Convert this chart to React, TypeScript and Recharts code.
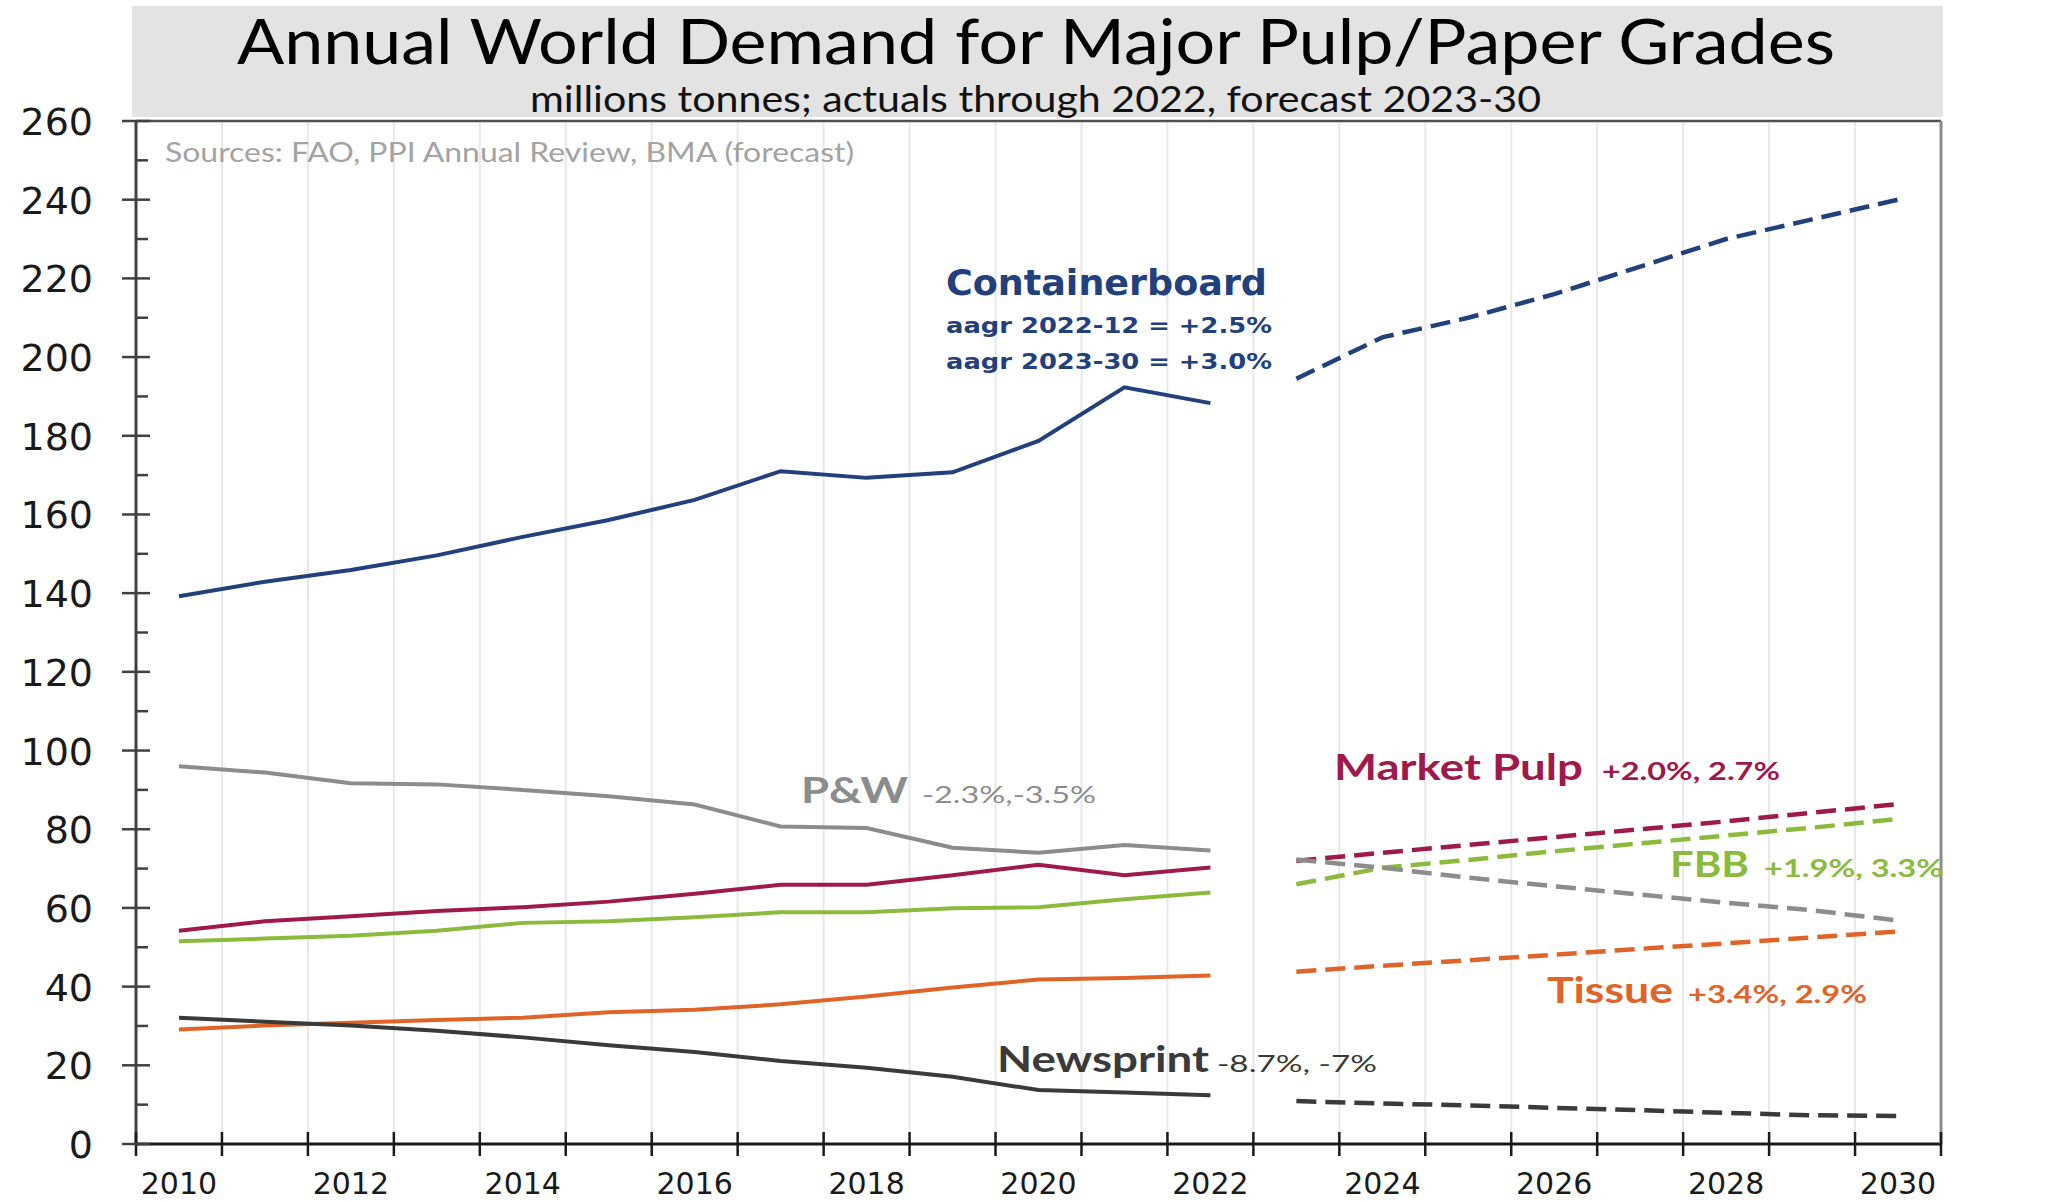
import React from "react";
import { LineChart, Line, XAxis, YAxis, CartesianGrid, ReferenceLine } from "recharts";

const years = [2010, 2011, 2012, 2013, 2014, 2015, 2016, 2017, 2018, 2019, 2020, 2021, 2022, 2023, 2024, 2025, 2026, 2027, 2028, 2029, 2030];
const actualCount = 13; // 2010-2022 actuals, 2023-30 forecast

const containerboardActual = [139.2, 142.9, 145.9, 149.6, 154.3, 158.6, 163.7, 171.0, 169.3, 170.7, 178.7, 192.3, 188.3];
const containerboardForecast = [194.5, 205.0, 210.0, 216.0, 223.0, 230.0, 235.0, 240.0];
const pwActual = [96.0, 94.4, 91.7, 91.4, 90.0, 88.4, 86.3, 80.7, 80.3, 75.3, 74.0, 76.0, 74.6];
const pwForecast = [72.3, 70.2, 67.7, 65.5, 63.4, 61.3, 59.4, 56.8];
const marketPulpActual = [54.2, 56.6, 57.9, 59.2, 60.2, 61.6, 63.6, 65.9, 65.9, 68.3, 71.0, 68.3, 70.3];
const marketPulpForecast = [72.0, 74.0, 76.0, 78.0, 80.0, 82.0, 84.2, 86.4];
const fbbActual = [51.5, 52.2, 52.9, 54.2, 56.2, 56.6, 57.6, 58.9, 58.9, 59.9, 60.2, 62.2, 63.9];
const fbbForecast = [66.0, 70.2, 72.2, 74.4, 76.4, 78.4, 80.4, 82.6];
const tissueActual = [29.1, 30.1, 30.8, 31.5, 32.1, 33.5, 34.1, 35.5, 37.5, 39.8, 41.8, 42.2, 42.8];
const tissueForecast = [43.8, 45.3, 46.7, 48.1, 49.6, 51.0, 52.5, 54.0];
const newsprintActual = [32.1, 31.1, 30.1, 28.8, 27.1, 25.1, 23.4, 21.1, 19.4, 17.1, 13.7, 13.1, 12.4];
const newsprintForecast = [10.9, 10.3, 9.8, 9.2, 8.6, 7.9, 7.3, 7.1];

const yTicks = [0, 10, 20, 30, 40, 50, 60, 70, 80, 90, 100, 110, 120, 130, 140, 150, 160, 170, 180, 190, 200, 210, 220, 230, 240, 250, 260];
const yGridValues = [20, 40, 60, 80, 100, 120, 140, 160, 180, 200, 220, 240];
const xLabelYears = [2010, 2012, 2014, 2016, 2018, 2020, 2022, 2024, 2026, 2028, 2030];

const xBoundaries = [2009.5, ...years.map((y) => y + 0.5)];
const xTickValues = [...xBoundaries, ...xLabelYears].sort((a, b) => a - b);
const xGridValues = xBoundaries.slice(1, xBoundaries.length - 1);

const pick = (arr: number[], i: number, forecast: boolean) =>
  forecast ? (i >= actualCount ? arr[i - actualCount] : null) : i < actualCount ? arr[i] : null;

const data = years.map((year, i) => ({
  year,
  cbA: pick(containerboardActual, i, false),
  cbF: pick(containerboardForecast, i, true),
  pwA: pick(pwActual, i, false),
  pwF: pick(pwForecast, i, true),
  mpA: pick(marketPulpActual, i, false),
  mpF: pick(marketPulpForecast, i, true),
  fbbA: pick(fbbActual, i, false),
  fbbF: pick(fbbForecast, i, true),
  tisA: pick(tissueActual, i, false),
  tisF: pick(tissueForecast, i, true),
  nwA: pick(newsprintActual, i, false),
  nwF: pick(newsprintForecast, i, true),
}));

const C_CB = "#22407c";
const C_PW = "#8c8c8c";
const C_MP = "#a0194b";
const C_FBB = "#8cba3c";
const C_TIS = "#e06428";
const C_NW = "#3a3a3a";

const AXIS_FONT = "DejaVu Sans";

function LeftTick(props: any) {
  const { x, y, payload } = props;
  const v = payload.value;
  if (v % 20 === 0) {
    return (
      <g>
        <line x1={x - 14} x2={x + 14} y1={y} y2={y} stroke="#404040" strokeWidth={2.5} />
        <text x={x - 43} y={y} dy={14} textAnchor="end" fontFamily={AXIS_FONT} fontSize={38} fill="#1a1a1a">
          {v}
        </text>
      </g>
    );
  }
  return <line x1={x} x2={x + 12} y1={y} y2={y} stroke="#404040" strokeWidth={2.5} />;
}

function RightTick(props: any) {
  const { x, y, payload } = props;
  const v = payload.value;
  if (v % 20 === 0) {
    return (
      <g>
        <line x1={x - 14} x2={x + 17} y1={y} y2={y} stroke="#8c8c8c" strokeWidth={2.5} />
        <text x={x + 42} y={y} dy={14} textAnchor="start" fontFamily={AXIS_FONT} fontSize={38} fill="#1a1a1a">
          {v}
        </text>
      </g>
    );
  }
  return <line x1={x - 10} x2={x} y1={y} y2={y} stroke="#8c8c8c" strokeWidth={2.5} />;
}

function BottomTick(props: any) {
  const { x, y, payload } = props;
  const v = payload.value;
  if (Number.isInteger(v)) {
    return (
      <text x={x} y={y + 50} textAnchor="middle" fontFamily={AXIS_FONT} fontSize={30} fill="#1a1a1a">
        {v}
      </text>
    );
  }
  return <line x1={x} x2={x} y1={y - 12} y2={y + 12} stroke="#1a1a1a" strokeWidth={2.5} />;
}

const LABEL_FONT = "Lato";

export default function App() {
  return (
    <div style={{ position: "absolute", left: 0, top: 0, width: 2069, height: 1202, background: "#ffffff" }}>
      <svg width={2069} height={1202} style={{ position: "absolute", left: 0, top: 0 }}>
        <rect x={132} y={6} width={1811} height={111} fill="#e3e3e3" />
      </svg>
      <div style={{ position: "absolute", left: 0, top: 0 }}>
        <LineChart width={2069} height={1202} data={data} margin={{ top: 121, right: 28, bottom: 0, left: 36 }}>
          <CartesianGrid
            stroke="#e8e8e8"
            strokeWidth={2}
            horizontalValues={yGridValues}
            verticalValues={xGridValues}
          />
          <XAxis
            dataKey="year"
            type="number"
            domain={[2009.5, 2030.5]}
            ticks={xTickValues}
            interval={0}
            height={58}
            tickSize={0}
            tickMargin={0}
            tickLine={false}
            axisLine={{ stroke: "#1a1a1a", strokeWidth: 3 }}
            tick={(p: any) => <BottomTick {...p} />}
          />
          <YAxis
            yAxisId="left"
            orientation="left"
            type="number"
            domain={[0, 260]}
            ticks={yTicks}
            interval={0}
            width={100}
            tickSize={0}
            tickMargin={0}
            tickLine={false}
            axisLine={{ stroke: "#404040", strokeWidth: 3 }}
            tick={(p: any) => <LeftTick {...p} />}
          />
          <YAxis
            yAxisId="right"
            orientation="right"
            type="number"
            domain={[0, 260]}
            ticks={yTicks}
            interval={0}
            width={100}
            tickSize={0}
            tickMargin={0}
            tickLine={false}
            axisLine={{ stroke: "#8c8c8c", strokeWidth: 3 }}
            tick={(p: any) => <RightTick {...p} />}
          />
          <ReferenceLine yAxisId="left" y={260} stroke="#505050" strokeWidth={2.5} />

          <Line yAxisId="left" dataKey="cbA" stroke={C_CB} strokeWidth={4} dot={false} isAnimationActive={false} />
          <Line yAxisId="left" dataKey="cbF" stroke={C_CB} strokeWidth={4.5} strokeDasharray="20 9" dot={false} isAnimationActive={false} />
          <Line yAxisId="left" dataKey="pwA" stroke={C_PW} strokeWidth={4} dot={false} isAnimationActive={false} />
          <Line yAxisId="left" dataKey="tisA" stroke={C_TIS} strokeWidth={4} dot={false} isAnimationActive={false} />
          <Line yAxisId="left" dataKey="tisF" stroke={C_TIS} strokeWidth={4.5} strokeDasharray="20 9" dot={false} isAnimationActive={false} />
          <Line yAxisId="left" dataKey="nwA" stroke={C_NW} strokeWidth={4} dot={false} isAnimationActive={false} />
          <Line yAxisId="left" dataKey="nwF" stroke={C_NW} strokeWidth={4.5} strokeDasharray="20 9" dot={false} isAnimationActive={false} />
          <Line yAxisId="left" dataKey="fbbA" stroke={C_FBB} strokeWidth={4} dot={false} isAnimationActive={false} />
          <Line yAxisId="left" dataKey="fbbF" stroke={C_FBB} strokeWidth={4.5} strokeDasharray="20 9" dot={false} isAnimationActive={false} />
          <Line yAxisId="left" dataKey="mpA" stroke={C_MP} strokeWidth={4} dot={false} isAnimationActive={false} />
          <Line yAxisId="left" dataKey="mpF" stroke={C_MP} strokeWidth={4.5} strokeDasharray="20 9" dot={false} isAnimationActive={false} />
          <Line yAxisId="left" dataKey="pwF" stroke={C_PW} strokeWidth={4.5} strokeDasharray="20 9" dot={false} isAnimationActive={false} />
        </LineChart>
      </div>
      <svg width={2069} height={1202} style={{ position: "absolute", left: 0, top: 0, pointerEvents: "none" }}>
        <text x={237} y={64} fontFamily={LABEL_FONT} fontSize={62} fill="#000" textLength={1598} lengthAdjust="spacingAndGlyphs">
          Annual World Demand for Major Pulp/Paper Grades
        </text>
        <text x={530} y={112} fontFamily={LABEL_FONT} fontSize={36} fill="#111" textLength={1011} lengthAdjust="spacingAndGlyphs">
          millions tonnes; actuals through 2022, forecast 2023-30
        </text>
        <text x={165} y={162} fontFamily={LABEL_FONT} fontSize={27} fill="#a3a3a3" textLength={689} lengthAdjust="spacingAndGlyphs">
          Sources: FAO, PPI Annual Review, BMA (forecast)
        </text>

        <text x={946} y={295} fontFamily="DejaVu Sans" fontWeight="bold" fontSize={36} fill={C_CB} textLength={321} lengthAdjust="spacingAndGlyphs">
          Containerboard
        </text>
        <text x={946} y={333} fontFamily="DejaVu Sans" fontWeight="bold" fontSize={22} fill={C_CB} textLength={326} lengthAdjust="spacingAndGlyphs">
          aagr 2022-12 = +2.5%
        </text>
        <text x={946} y={369} fontFamily="DejaVu Sans" fontWeight="bold" fontSize={22} fill={C_CB} textLength={326} lengthAdjust="spacingAndGlyphs">
          aagr 2023-30 = +3.0%
        </text>

        <text x={801} y={803} fontFamily={LABEL_FONT} fontWeight="bold" fontSize={36} fill={C_PW} textLength={107} lengthAdjust="spacingAndGlyphs">
          P&amp;W
        </text>
        <text x={922} y={803} fontFamily={LABEL_FONT} fontSize={24} fill={C_PW} textLength={174} lengthAdjust="spacingAndGlyphs">
          -2.3%,-3.5%
        </text>

        <text x={1334} y={780} fontFamily={LABEL_FONT} fontWeight="bold" fontSize={37} fill={C_MP} textLength={249} lengthAdjust="spacingAndGlyphs">
          Market Pulp
        </text>
        <text x={1602} y={780} fontFamily={LABEL_FONT} fontWeight="bold" fontSize={24} fill={C_MP} textLength={178} lengthAdjust="spacingAndGlyphs">
          +2.0%, 2.7%
        </text>

        <text x={1670} y={877} fontFamily={LABEL_FONT} fontWeight="bold" fontSize={37} fill={C_FBB} textLength={79} lengthAdjust="spacingAndGlyphs">
          FBB
        </text>
        <text x={1764} y={877} fontFamily={LABEL_FONT} fontWeight="bold" fontSize={24} fill={C_FBB} textLength={179} lengthAdjust="spacingAndGlyphs">
          +1.9%, 3.3%
        </text>

        <text x={1547} y={1003} fontFamily={LABEL_FONT} fontWeight="bold" fontSize={37} fill={C_TIS} textLength={126} lengthAdjust="spacingAndGlyphs">
          Tissue
        </text>
        <text x={1688} y={1003} fontFamily={LABEL_FONT} fontWeight="bold" fontSize={24} fill={C_TIS} textLength={179} lengthAdjust="spacingAndGlyphs">
          +3.4%, 2.9%
        </text>

        <text x={997} y={1072} fontFamily={LABEL_FONT} fontWeight="bold" fontSize={37} fill={C_NW} textLength={212} lengthAdjust="spacingAndGlyphs">
          Newsprint
        </text>
        <text x={1217} y={1072} fontFamily={LABEL_FONT} fontSize={24} fill={C_NW} textLength={160} lengthAdjust="spacingAndGlyphs">
          -8.7%, -7%
        </text>
      </svg>
    </div>
  );
}
